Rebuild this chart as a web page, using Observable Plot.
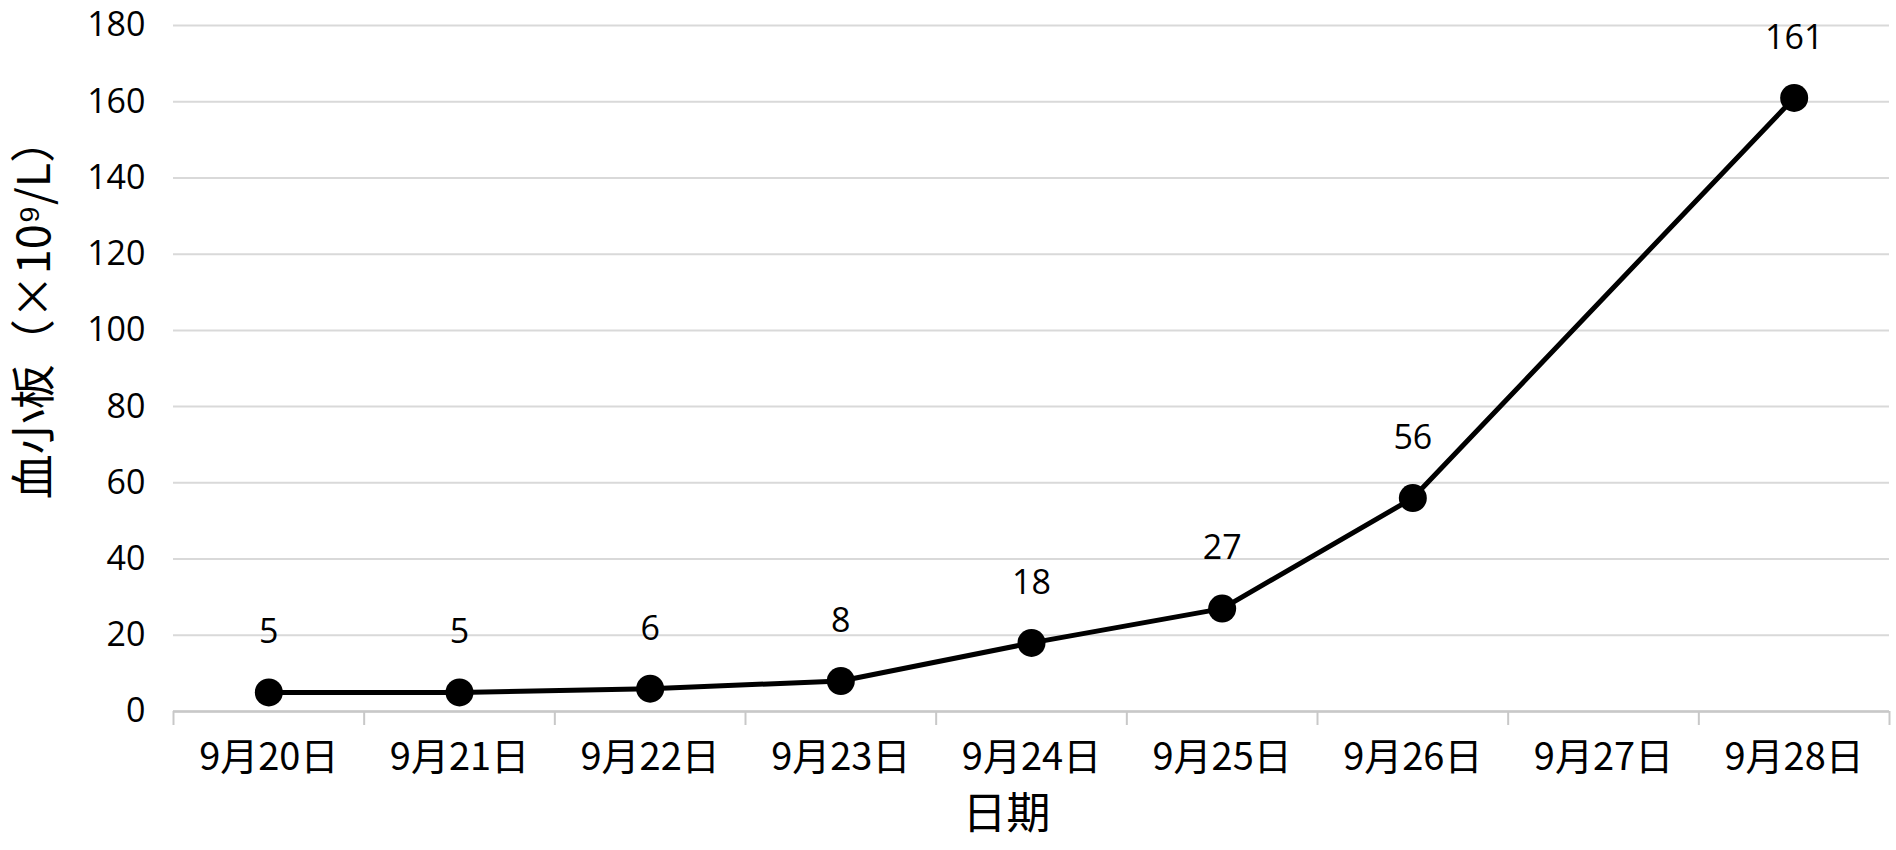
<!DOCTYPE html>
<html><head><meta charset="utf-8">
<script src="https://cdn.jsdelivr.net/npm/d3@7"></script>
<script src="https://cdn.jsdelivr.net/npm/@observablehq/plot@0.6"></script>
<style>body{margin:0;background:#fff;overflow:hidden;}</style>
</head><body><div id="chart"></div>
<script>
const dates = ["9月20日","9月21日","9月22日","9月23日","9月24日","9月25日","9月26日","9月27日","9月28日"];
const platelets = [5, 5, 6, 8, 18, 27, 56, null, 161];
const yTicks = [0, 20, 40, 60, 80, 100, 120, 140, 160, 180];
const yTitle = "血小板（×10⁹/L）";
const xTitle = "日期";

const rows = dates.map((d, i) => ({i, date: d, value: platelets[i]}));
const measured = rows.filter(r => r.value != null);
const centers = d3.range(dates.length);
const bounds = d3.range(-0.5, dates.length, 1);

const chart = Plot.plot({
  width: 1896, height: 850,
  marginTop: 25, marginBottom: 139, marginLeft: 173, marginRight: 7,
  style: {fontFamily: '"Open Sans","Noto Sans CJK SC",sans-serif', color: "#000", background: "#fff"},
  x: {type: "linear", domain: [-0.5, dates.length - 0.5]},
  y: {domain: [0, 180]},
  marks: [
    Plot.gridY(yTicks, {stroke: "#d9d9d9", strokeOpacity: 1, strokeWidth: 2}),
    Plot.axisY(yTicks, {tickSize: 0, tickPadding: 28, fontSize: 34, fontWeight: 500, label: null}),
    Plot.ruleY([0], {stroke: "#c8c8c8", strokeWidth: 2.5}),
    Plot.axisX(bounds, {tickSize: 14, tickFormat: () => "", stroke: "#c8c8c8", strokeWidth: 2, strokeOpacity: 1, label: null}),
    Plot.axisX(centers, {tickSize: 0, tickPadding: 32, tickFormat: i => dates[i], fontSize: 38, fontWeight: 400, label: null,
      fontFamily: '"Noto Sans CJK SC",sans-serif'}),
    Plot.line(measured, {x: "i", y: "value", stroke: "#000", strokeWidth: 5}),
    Plot.dot(measured, {x: "i", y: "value", r: 14, fill: "#000"}),
    Plot.text(measured, {x: "i", y: "value", text: d => String(d.value), dy: -60, fontSize: 34, fontWeight: 500}),
    Plot.text([yTitle], {frameAnchor: "left", textAnchor: "middle", rotate: -90, dx: -138, dy: -60, fontSize: 45,
      fontFamily: '"Noto Sans CJK SC",sans-serif'}),
    Plot.text([xTitle], {frameAnchor: "bottom", dy: 117, dx: -25, fontSize: 44, fontFamily: '"Noto Sans CJK SC",sans-serif'})
  ]
});
document.getElementById("chart").append(chart);
</script>
</body></html>
